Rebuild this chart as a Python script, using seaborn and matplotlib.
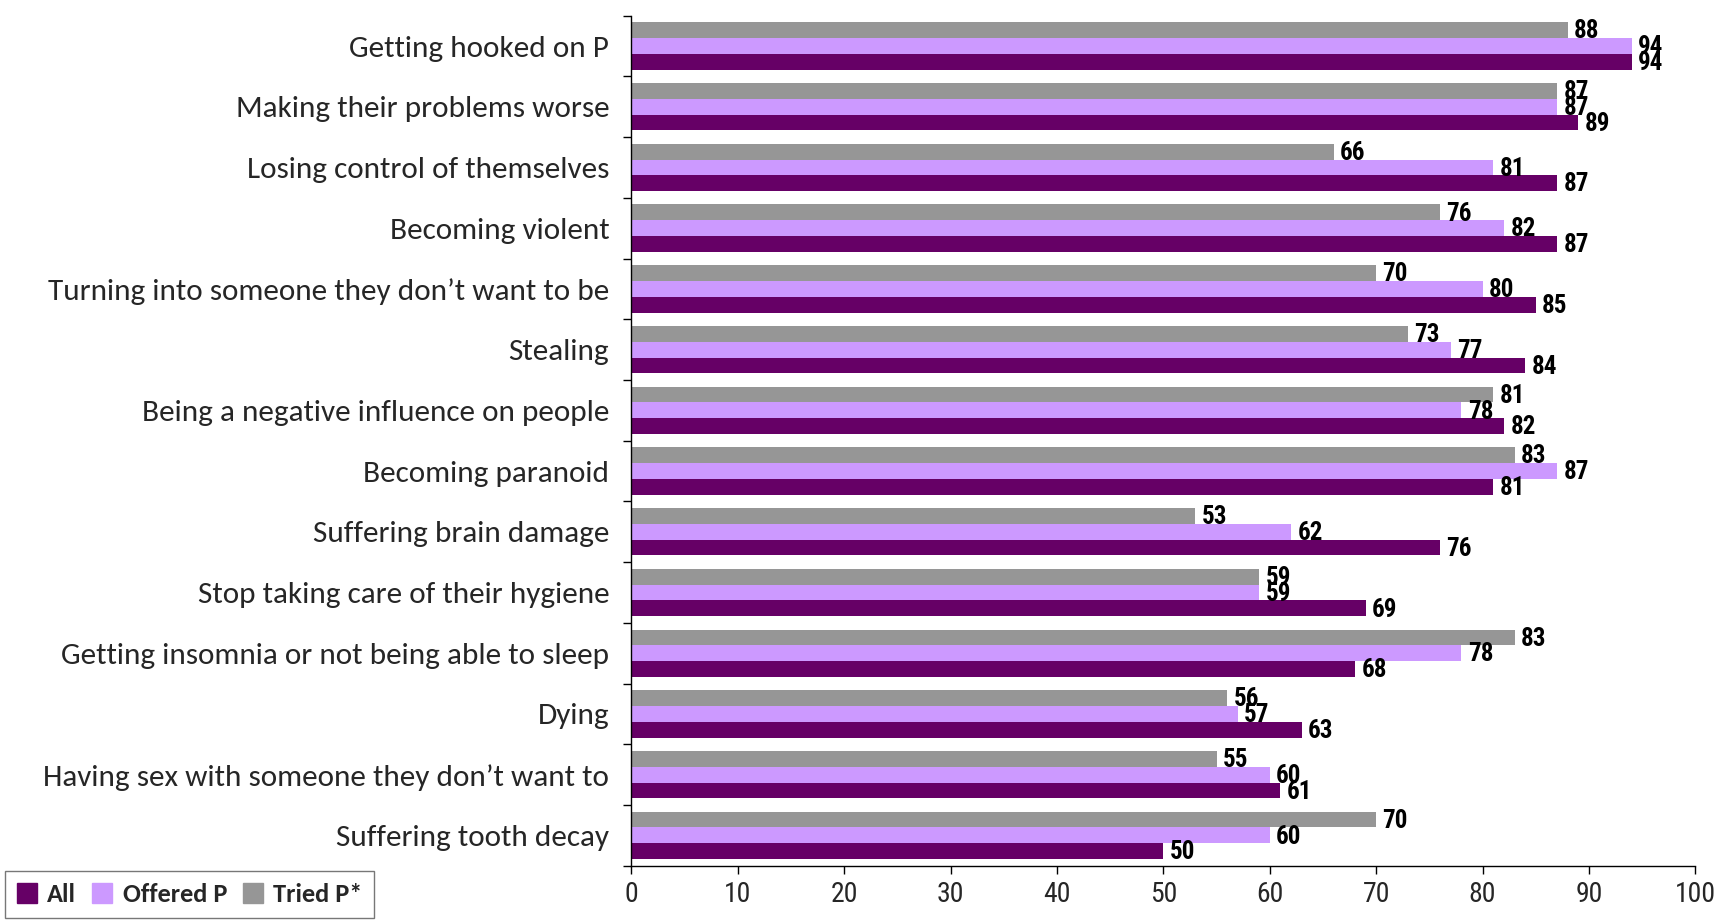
import matplotlib
matplotlib.use("Agg")
import matplotlib.pyplot as plt
import matplotlib.patches as mpatches
from matplotlib import font_manager
import seaborn as sns
import pandas as pd
import numpy as np

categories = [
    "Getting hooked on P",
    "Making their problems worse",
    "Losing control of themselves",
    "Becoming violent",
    "Turning into someone they don\u2019t want to be",
    "Stealing",
    "Being a negative influence on people",
    "Becoming paranoid",
    "Suffering brain damage",
    "Stop taking care of their hygiene",
    "Getting insomnia or not being able to sleep",
    "Dying",
    "Having sex with someone they don\u2019t want to",
    "Suffering tooth decay",
]
all_vals = [94, 89, 87, 87, 85, 84, 82, 81, 76, 69, 68, 63, 61, 50]
offered_vals = [94, 87, 81, 82, 80, 77, 78, 87, 62, 59, 78, 57, 60, 60]
tried_vals = [88, 87, 66, 76, 70, 73, 81, 83, 53, 59, 83, 56, 55, 70]
series_names = ["All", "Offered P", "Tried P*"]
colors = {"All": "#660066", "Offered P": "#CC99FF", "Tried P*": "#969696"}
xticks = [0, 10, 20, 30, 40, 50, 60, 70, 80, 90, 100]

rows = []
for name, vals in zip(series_names, [all_vals, offered_vals, tried_vals]):
    for c, v in zip(categories, vals):
        rows.append({"category": c, "series": name, "value": v})
df = pd.DataFrame(rows)

available = {f.name for f in font_manager.fontManager.ttflist}

def pick(*names):
    for n in names:
        if n in available:
            return n
    return "DejaVu Sans"

label_font = pick("Carlito", "Lato", "Open Sans")
narrow_font = pick("Liberation Sans Narrow", "Arial Narrow", "Roboto Condensed", "Roboto")

sns.set_style("white")
plt.rcParams["font.family"] = [label_font, "DejaVu Sans"]

fig = plt.figure(figsize=(17.30, 9.21), dpi=100)
ax = fig.add_axes([0.365, 0.060, 0.615, 0.923])

draw_order = ["Tried P*", "Offered P", "All"]
sns.barplot(data=df, y="category", x="value", hue="series", order=categories,
            hue_order=draw_order, palette=colors, orient="h", width=0.78,
            dodge=True, saturation=1, ax=ax, legend=False, edgecolor="none")

narrow = [narrow_font, "DejaVu Sans"]
for cont in ax.containers:
    for bar in cont:
        w = bar.get_width()
        yc = bar.get_y() + bar.get_height() / 2
        ax.text(w + 0.6, yc + 0.02, f"{int(round(w))}", va="center", ha="left",
                fontsize=18, fontweight="bold", family=narrow, color="black")

ax.set_xlim(0, 100)
ax.set_ylim(len(categories) - 0.5, -0.5)
ax.set_xticks(xticks)
ax.set_xticklabels([str(t) for t in xticks], family=narrow, fontsize=20)
ax.set_yticks(range(len(categories)))
ax.set_yticklabels(categories, fontsize=22.5)
ax.set_yticks(np.arange(-0.5, len(categories), 1.0), minor=True)
ax.tick_params(axis="y", which="major", length=0, pad=16)
ax.tick_params(axis="y", which="minor", length=6, width=1, color="black", direction="out", left=True)
ax.tick_params(axis="x", which="major", length=6, width=1, color="black", direction="out", bottom=True, pad=5)
ax.set_xlabel("")
ax.set_ylabel("")
for s in ["top", "right"]:
    ax.spines[s].set_visible(False)
for s in ["left", "bottom"]:
    ax.spines[s].set_color("black")
    ax.spines[s].set_linewidth(1)
ax.grid(False)

handles = [mpatches.Patch(color=colors[n], label=n) for n in series_names]
leg = fig.legend(handles=handles, loc="lower left", bbox_to_anchor=(0.003, 0.003),
                 borderaxespad=0, ncol=3, frameon=True, fancybox=False, edgecolor="#555555",
                 handlelength=0.75, handleheight=0.75, handletextpad=0.4,
                 columnspacing=0.6, borderpad=0.45,
                 prop={"family": [label_font, "DejaVu Sans"], "weight": "bold", "size": 19})
leg.get_frame().set_linewidth(1)

fig.savefig("out.png", dpi=100)
